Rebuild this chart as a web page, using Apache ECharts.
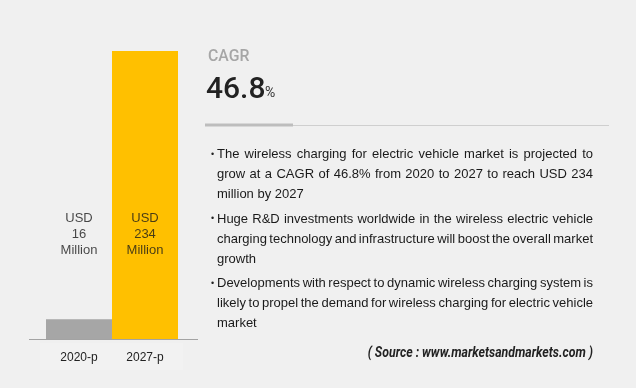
<!DOCTYPE html>
<html><head><meta charset="utf-8">
<script src="https://cdn.jsdelivr.net/npm/echarts@6/dist/echarts.min.js"></script>
<style>html,body{margin:0;padding:0;background:#f0f0f0}#c{width:636px;height:388px}</style>
</head><body><div id="c"></div>
<script>
const categories = ['2020-p', '2027-p'];
const values = [16, 234];
const barColors = ['#a6a6a6', '#ffc000'];
const valueLabels = ['USD\n16\nMillion', 'USD\n234\nMillion'];
const labelLevel = 85;
const cagrTitle = 'CAGR';
const cagrValue = '46.8';
const bulletLines = [
  ['The wireless charging for electric vehicle market is projected to',
   'grow at a CAGR of 46.8% from 2020 to 2027 to reach USD 234',
   'million by 2027'],
  ['Huge R&D investments worldwide in the wireless electric vehicle',
   'charging technology and infrastructure will boost the overall market',
   'growth'],
  ['Developments with respect to dynamic wireless charging system is',
   'likely to propel the demand for wireless charging for electric vehicle',
   'market']
];
const sourceText = '( Source : www.marketsandmarkets.com )';

const chart = echarts.init(document.getElementById('c'));
const bodyFont = '13px "Liberation Sans", sans-serif';
const mctx = document.createElement('canvas').getContext('2d');
mctx.font = bodyFont;

const graphics = [
  {type:'rect', shape:{x:40,y:343,width:143,height:27}, style:{fill:'#f2f2f2'}, z:-1},
  {type:'line', shape:{x1:29,y1:339.5,x2:198,y2:339.5}, style:{stroke:'#a3a3a3',lineWidth:1}, z:10},
  {type:'text', x:208, y:48, scaleX:0.93, style:{text:cagrTitle, fill:'#a6a6a6', font:'500 17px "Roboto", sans-serif'}},
  {type:'text', left:206, top:75, style:{text:cagrValue, fill:'#222', font:'500 30px "Roboto", sans-serif'}},
  {type:'text', left:265, top:86, style:{text:'%', fill:'#333', font:'14px "Roboto", sans-serif'}},
  {type:'line', shape:{x1:293,y1:125.5,x2:609,y2:125.5}, style:{stroke:'#cfcfcf',lineWidth:1}},
  {type:'line', shape:{x1:205,y1:125,x2:293,y2:125}, style:{stroke:'#bdbdbd',lineWidth:3}},
  {type:'text', x:593, y:353, scaleX:0.88, style:{text:sourceText, fill:'#222', align:'right', verticalAlign:'middle', font:'italic bold 14px "Roboto", sans-serif'}}
];
const textLeft = 217, textRight = 593;
const y0 = 149;
bulletLines.forEach((grp, gi) => {
  graphics.push({type:'text', left:211, top:y0 + 1 + gi*64.5, style:{text:'•', fill:'#222', font:'9px "Liberation Sans", sans-serif'}});
  grp.forEach((ln, li) => {
    const top = y0 - 1 + gi*64.5 + li*20;
    if (li === grp.length - 1) {
      graphics.push({type:'text', left:textLeft, top:top, style:{text:ln, fill:'#1a1a1a', font:bodyFont}});
      return;
    }
    const words = ln.split(' ');
    const widths = words.map(w => mctx.measureText(w).width);
    const total = widths.reduce((a,b)=>a+b,0);
    const gap = (textRight - textLeft - total) / (words.length - 1);
    let x = textLeft;
    words.forEach((w, wi) => {
      graphics.push({type:'text', x:x, y:top, style:{text:w, fill:'#1a1a1a', font:bodyFont}});
      x += widths[wi] + gap;
    });
  });
});

chart.setOption({
  backgroundColor:'#f0f0f0',
  animation:false,
  grid:{left:46, width:132, top:51, bottom:49},
  xAxis:{type:'category', data:categories, axisLine:{show:false}, axisTick:{show:false},
    axisLabel:{color:'#222', fontSize:12, margin:13, fontFamily:'"Liberation Sans", sans-serif'}},
  yAxis:{type:'value', min:0, max:234, show:false, splitLine:{show:false}},
  series:[
    {type:'bar', barCategoryGap:'0%', data:values.map((v,i)=>({value:v, itemStyle:{color:barColors[i]}}))},
    {type:'scatter', symbolSize:0, data:valueLabels.map((t,i)=>[i, labelLevel]),
      label:{show:true, position:'inside', color:'#1a1a1a', fontSize:13, lineHeight:16, fontFamily:'"Liberation Sans", sans-serif',
        formatter:p=>valueLabels[p.dataIndex]}}
  ],
  graphic:graphics
});
</script></body></html>
